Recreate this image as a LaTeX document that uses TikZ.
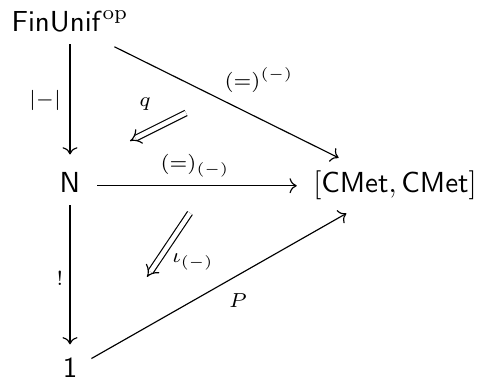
\documentclass[tikz,border=0pt]{standalone}
\usetikzlibrary{arrows.meta,cd}
\begin{document}
\begin{tikzpicture}[x=0.345pt,y=-0.345pt,
  obj/.style={anchor=base, inner sep=0pt, text height=7.5pt, text depth=2.5pt},
  lab/.style={inner sep=0pt},
  arr/.style={-{tikzcd to}, line width=0.4pt},
  darr/.style={double, double equal sign distance, -{Implies}}]
\useasboundingbox (0,0) rectangle (481,383);
\node[obj] (a) at (70,32) {$\mathsf{FinUnif}^{\mathrm{op}}$};
\node[obj] (b) at (70,193) {$\mathsf{N}$};
\node[obj] (c) at (395,193) {$[\mathsf{CMet},\mathsf{CMet}]$};
\node[obj] (d) at (70,378) {$\mathsf{1}$};
\draw[arr, shorten <=1.6pt, shorten >=5.6pt] (a) -- (b);
\draw[arr, shorten <=1.6pt, shorten >=3.9pt] (b) -- (d);
\draw[arr, shorten <=5.7pt, shorten >=5.5pt] (b) -- (c);
\draw[arr, shorten <=5.4pt, shorten >=10pt] (a) -- (c);
\draw[arr, shorten <=5.4pt, shorten >=8.8pt] (d) -- (c);
\coordinate (q1) at (186,113);
\coordinate (q2) at (130,141);
\draw[darr] (q1) -- (q2);
\coordinate (i1) at (190,213);
\coordinate (i2) at (147,277);
\draw[darr] (i1) -- (i2);
\node[lab] (l1) at (259,80) {$\scriptstyle (=)^{(-)}$};
\node[lab] (l2) at (45,100) {$\scriptstyle |-|$};
\node[lab] (l3) at (145,104) {$\scriptstyle q$};
\node[lab] (l4) at (195,166) {$\scriptstyle (=)_{(-)}$};
\node[lab] (l5) at (193,262) {$\scriptstyle \iota_{(-)}$};
\node[lab] (l6) at (60,278) {$\scriptstyle !$};
\node[lab] (l7) at (238,301) {$\scriptstyle P$};
\end{tikzpicture}
\end{document}
